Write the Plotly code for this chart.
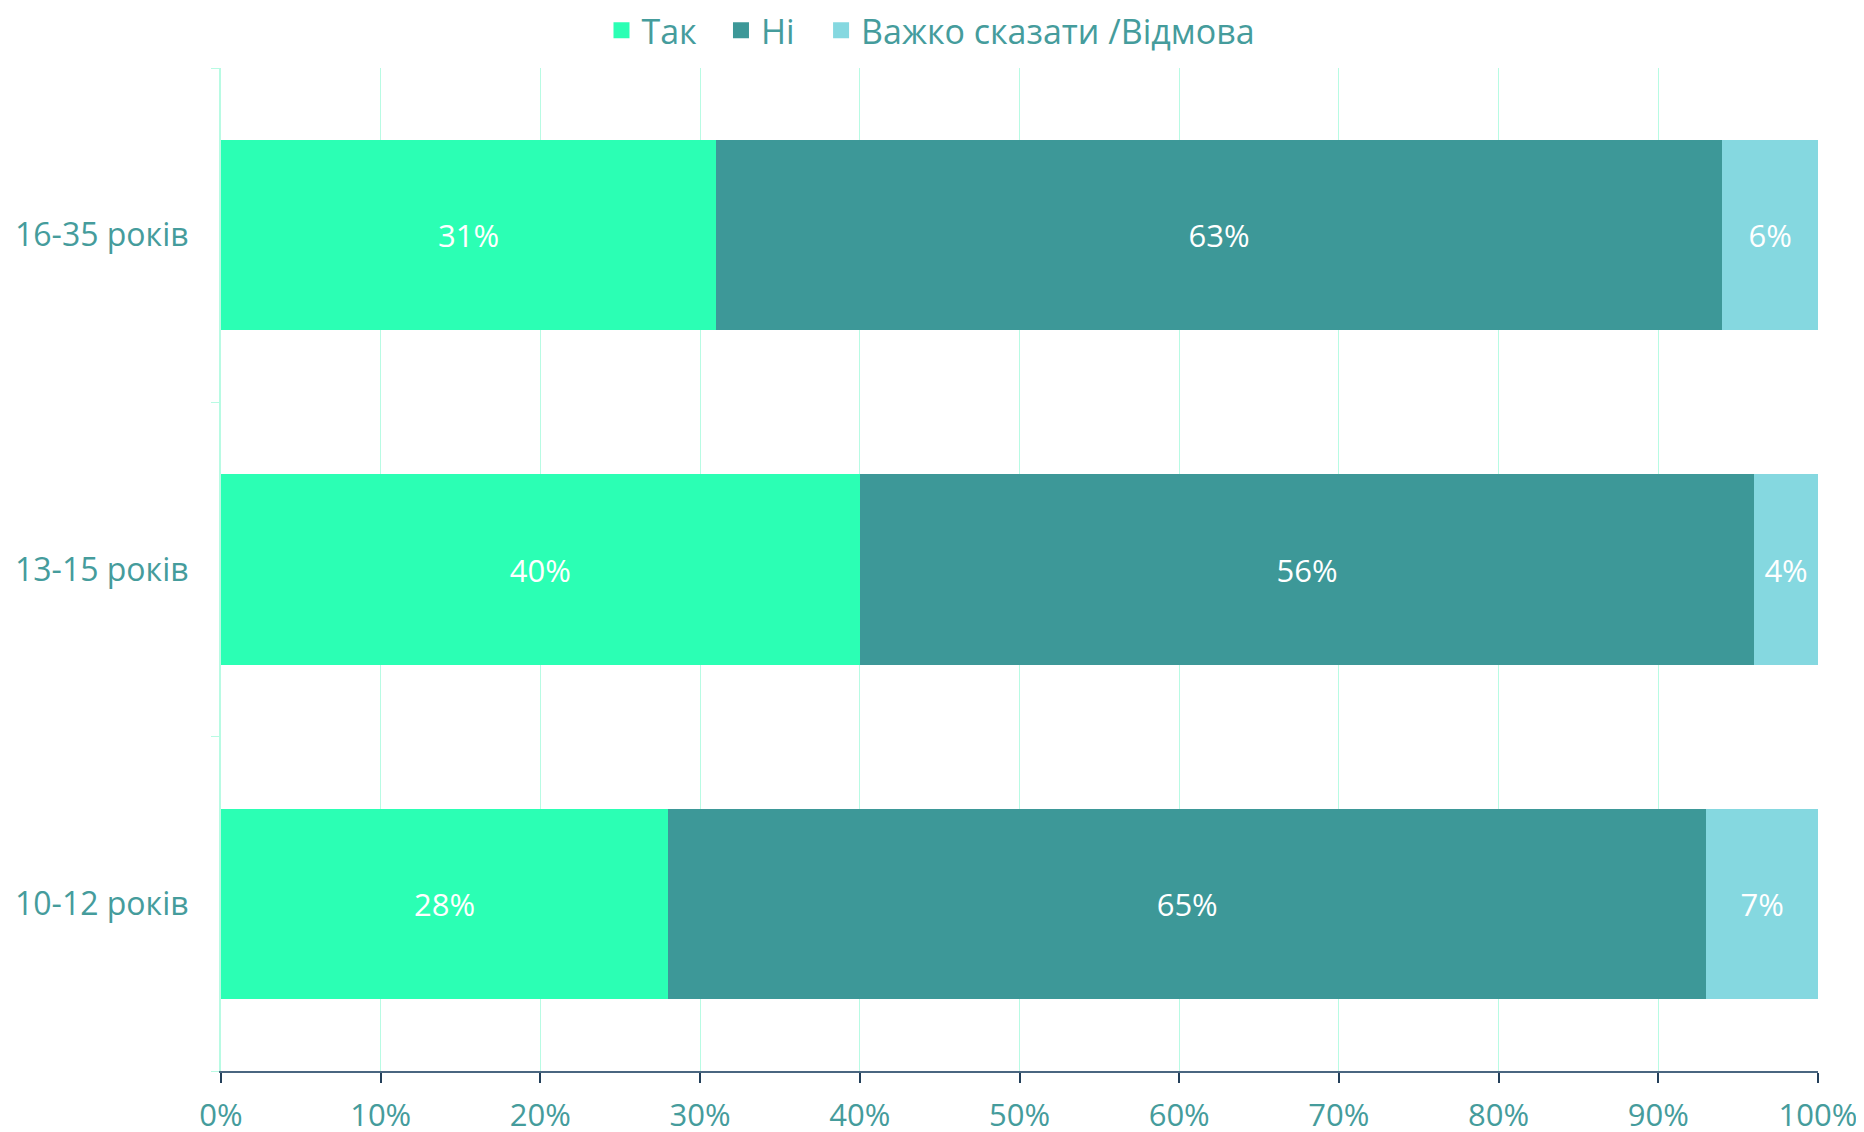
import plotly.graph_objects as go

categories = ["10-12 років", "13-15 років", "16-35 років"]
series_names = ["Так", "Ні", "Важко сказати /Відмова"]
tak = [28, 40, 31]
ni = [65, 56, 63]
vazhko = [7, 4, 6]
colors = ["#2BFFB4", "#3D9898", "#85D8E0"]
x_ticks = [0, 10, 20, 30, 40, 50, 60, 70, 80, 90, 100]
x_tick_labels = [f"{v}%" for v in x_ticks]

FONT = "Open Sans"
TEXT_COLOR = "#459C9C"

legend_ids = ["legend2", "legend3", "legend4"]
legend_x = [0.3184, 0.3825, 0.4362]

fig = go.Figure()
for name, vals, col in zip(series_names, [tak, ni, vazhko], colors):
    fig.add_trace(go.Bar(
        y=categories, x=vals, name=name, orientation="h",
        marker=dict(color=col, line=dict(width=0)),
        text=[f"{v}%" for v in vals], textposition="inside",
        insidetextanchor="middle",
        textfont=dict(color="white", size=31, family=FONT),
        hoverinfo="skip", showlegend=False,
    ))

# legend-only entries (square swatches like the reference)
for name, col, lid in zip(series_names, colors, legend_ids):
    fig.add_trace(go.Scatter(
        x=[None], y=[None], mode="markers", name=name,
        marker=dict(symbol="square", size=16, color=col),
        legend=lid, hoverinfo="skip",
    ))

legend_common = dict(
    orientation="h", xref="container", xanchor="left",
    yref="container", y=0.980, yanchor="middle",
    font=dict(size=34, color=TEXT_COLOR, family=FONT),
    itemwidth=30, bgcolor="rgba(0,0,0,0)", borderwidth=0,
)

fig.update_layout(
    barmode="stack",
    bargap=0.43,
    width=1864, height=1132,
    margin=dict(l=213, r=54, t=60, b=69, autoexpand=False),
    plot_bgcolor="white", paper_bgcolor="white",
    font=dict(family=FONT, color=TEXT_COLOR, size=31),
    uniformtext=dict(mode=False),
    showlegend=True,
    legend2=dict(x=legend_x[0], **legend_common),
    legend3=dict(x=legend_x[1], **legend_common),
    legend4=dict(x=legend_x[2], **legend_common),
    xaxis=dict(
        range=[0, 100], tickmode="array", tickvals=x_ticks, ticktext=x_tick_labels,
        showgrid=True, gridcolor="#B8FBE3", gridwidth=1,
        showline=True, linecolor="#4A6680", linewidth=2,
        ticks="outside", ticklen=10, tickcolor="#24405A", tickwidth=2,
        tickfont=dict(size=31, color=TEXT_COLOR, family=FONT),
        ticklabelstandoff=6,
        zeroline=False, fixedrange=True, automargin=False,
    ),
    yaxis=dict(
        categoryorder="array", categoryarray=categories,
        showline=True, linecolor="#B8FBE3", linewidth=2,
        ticks="outside", tickson="boundaries", ticklen=8, tickcolor="#B8FBE3",
        tickfont=dict(size=32, color=TEXT_COLOR, family=FONT),
        ticklabelstandoff=24, automargin=False,
        showgrid=False, zeroline=False,
    ),
)

fig.write_html("out.html")
